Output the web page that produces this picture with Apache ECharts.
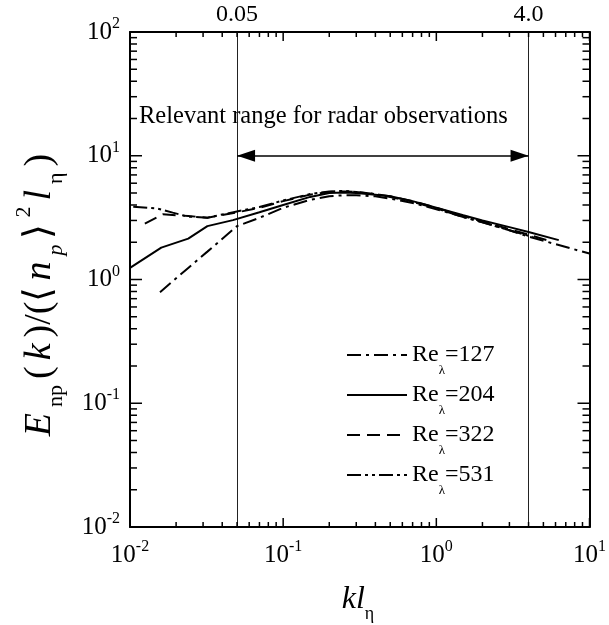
<!DOCTYPE html>
<html>
<head>
<meta charset="utf-8">
<script src="https://cdn.jsdelivr.net/npm/echarts@6/dist/echarts.min.js"></script>
<style>
html,body{margin:0;padding:0;background:#fff;}
#chart{width:609px;height:625px;}
</style>
</head>
<body>
<div id="chart"></div>
<script>
// ---- data ----
var seriesNames = ['127', '204', '322', '531'];

var k127 = [0.0157, 0.024, 0.032, 0.05, 0.07, 0.1, 0.15, 0.2, 0.25, 0.3, 0.4, 0.5, 0.7, 1.0, 1.5, 2.0, 3.0, 4.0, 6.0, 10];
var e127 = [0.79, 1.24, 1.68, 2.70, 3.15, 3.8, 4.4, 4.7, 4.8, 4.8, 4.7, 4.5, 4.15, 3.7, 3.2, 2.9, 2.5, 2.22, 1.93, 1.62];

var k204 = [0.01, 0.016, 0.024, 0.032, 0.047, 0.07, 0.1, 0.15, 0.2, 0.25, 0.3, 0.4, 0.5, 0.7, 1.0, 1.5, 2.0, 3.0, 4.0, 6.3];
var e204 = [1.24, 1.81, 2.14, 2.70, 3.02, 3.5, 4.0, 4.65, 5.0, 5.05, 5.0, 4.85, 4.7, 4.3, 3.8, 3.3, 3.0, 2.65, 2.42, 2.08];

var k322 = [0.0125, 0.0164, 0.024, 0.032, 0.049, 0.07, 0.1, 0.15, 0.2, 0.25, 0.3, 0.4, 0.5, 0.7, 1.0, 1.5, 2.0, 3.0, 4.0, 5.5];
var e322 = [2.83, 3.36, 3.26, 3.16, 3.47, 3.8, 4.3, 4.85, 5.1, 5.15, 5.1, 4.9, 4.7, 4.3, 3.8, 3.25, 2.95, 2.55, 2.3, 2.05];

var k531 = [0.0105, 0.015, 0.019, 0.024, 0.032, 0.049, 0.07, 0.1, 0.15, 0.2, 0.25, 0.3, 0.4, 0.5, 0.7, 1.0, 1.5, 2.0, 3.0, 4.3];
var e531 = [3.88, 3.75, 3.47, 3.22, 3.16, 3.53, 3.85, 4.35, 4.9, 5.15, 5.2, 5.1, 4.9, 4.65, 4.25, 3.75, 3.2, 2.9, 2.5, 2.2];

var rangeLines = [0.05, 4.0];
var rangeLabels = ['0.05', '4.0'];
var arrowLevel = 10;
var rangeText = 'Relevant range for radar observations';

var xMin = 0.01, xMax = 10, yMin = 0.01, yMax = 100;
var xTickExps = [-2, -1, 0, 1];
var yTickExps = [-2, -1, 0, 1, 2];
var xMajor = [0.01, 0.1, 1, 10];
var yMajor = [0.01, 0.1, 1, 10, 100];
var xMinor = [0.02,0.03,0.04,0.05,0.06,0.07,0.08,0.09,0.2,0.3,0.4,0.5,0.6,0.7,0.8,0.9,2,3,4,5,6,7,8,9];
var yMinor = [0.02,0.03,0.04,0.05,0.06,0.07,0.08,0.09,0.2,0.3,0.4,0.5,0.6,0.7,0.8,0.9,2,3,4,5,6,7,8,9,20,30,40,50,60,70,80,90];

// ---- styling ----
var FONT = '"Liberation Serif", "Times New Roman", serif';
var dashes = {
  '127': [14, 5, 3, 5],
  '204': 'solid',
  '322': [13, 7],
  '531': [14, 4, 3, 4, 3, 4]
};
var TICK = { xMajorLen: 9, xMinorLen: 5, yMajorLen: 12, yMinorLen: 7, width: 1.5, color: '#000' };

function pairs(ks, es) { return ks.map(function (k, i) { return [k, es[i]]; }); }
var dataMap = { '127': pairs(k127, e127), '204': pairs(k204, e204), '322': pairs(k322, e322), '531': pairs(k531, e531) };

function expLabel(exps) {
  return function (v) {
    var e = Math.round(Math.log10(v));
    if (exps.indexOf(e) < 0) return '';
    return '{b|10}{s|' + e + '}';
  };
}
var tickRich = {
  b: { fontFamily: FONT, fontSize: 25, color: '#000', lineHeight: 32 },
  s: { fontFamily: FONT, fontSize: 16, color: '#000', lineHeight: 14, verticalAlign: 'top' }
};

var axLine = { show: true, onZero: false, lineStyle: { color: '#000', width: 2 } };
function mainX(pos, showLabel) {
  return {
    type: 'log', logBase: 10, min: xMin, max: xMax, position: pos,
    axisLine: axLine,
    axisTick: { show: false },
    axisLabel: { show: showLabel, margin: 12, formatter: expLabel(xTickExps), rich: tickRich },
    splitLine: { show: false }
  };
}
function mainY(pos, showLabel) {
  return {
    type: 'log', logBase: 10, min: yMin, max: yMax, position: pos,
    axisLine: axLine,
    axisTick: { show: false },
    axisLabel: { show: showLabel, margin: 10, formatter: expLabel(yTickExps), rich: tickRich },
    splitLine: { show: false }
  };
}

var series = seriesNames.map(function (n) {
  return {
    name: n, type: 'line', data: dataMap[n], symbol: 'none', showSymbol: false,
    xAxisIndex: 0, yAxisIndex: 0, clip: true, z: 5,
    lineStyle: { color: '#000', width: 2, type: dashes[n] },
    itemStyle: { color: '#000' }
  };
});

// inward ticks on all four sides, placed through the axes' own scales
function tickLine(x1, y1, x2, y2) {
  return { type: 'line', shape: { x1: x1, y1: y1, x2: x2, y2: y2 }, style: { stroke: TICK.color, lineWidth: TICK.width } };
}
series.push({
  name: 'xticks', type: 'custom', xAxisIndex: 0, yAxisIndex: 0, clip: false, silent: true, z: 6,
  data: xMajor.concat(xMinor).map(function (v) { return [v, yMin]; }),
  renderItem: function (params, api) {
    var v = api.value(0);
    var len = xMajor.indexOf(v) >= 0 ? TICK.xMajorLen : TICK.xMinorLen;
    var pb = api.coord([v, yMin]);
    var pt = api.coord([v, yMax]);
    return { type: 'group', children: [
      tickLine(pb[0], pb[1], pb[0], pb[1] - len),
      tickLine(pt[0], pt[1], pt[0], pt[1] + len)
    ] };
  }
});
series.push({
  name: 'yticks', type: 'custom', xAxisIndex: 0, yAxisIndex: 0, clip: false, silent: true, z: 6,
  data: yMajor.concat(yMinor).map(function (v) { return [xMin, v]; }),
  renderItem: function (params, api) {
    var v = api.value(1);
    var len = yMajor.indexOf(v) >= 0 ? TICK.yMajorLen : TICK.yMinorLen;
    var pl = api.coord([xMin, v]);
    var pr = api.coord([xMax, v]);
    return { type: 'group', children: [
      tickLine(pl[0], pl[1], pl[0] + len, pl[1]),
      tickLine(pr[0], pr[1], pr[0] - len, pr[1])
    ] };
  }
});

series.push({
  name: 'range', type: 'line', data: [], xAxisIndex: 0, yAxisIndex: 0,
  markLine: {
    silent: true, animation: false,
    symbol: 'none',
    lineStyle: { color: '#222', width: 1, type: 'solid' },
    label: {
      show: true, position: 'end', distance: 5,
      fontFamily: FONT, fontSize: 24, color: '#000',
      formatter: function (p) { return rangeLabels[rangeLines.indexOf(p.value)] || p.value; }
    },
    data: rangeLines.map(function (v) { return { xAxis: v }; })
  }
});
series.push({
  name: 'arrow', type: 'line', data: [], xAxisIndex: 0, yAxisIndex: 0,
  markLine: {
    silent: true, animation: false,
    symbol: ['triangle', 'triangle'],
    symbolSize: [12, 18],
    symbolOffset: [[0, 9], [0, 9]],
    lineStyle: { color: '#000', width: 1.5, type: 'solid' },
    label: { show: false },
    data: [[{ coord: [rangeLines[0], arrowLevel] }, { coord: [rangeLines[1], arrowLevel] }]]
  }
});

var option = {
  animation: false,
  backgroundColor: '#fff',
  grid: { left: 130, right: 18, top: 32, bottom: 98, containLabel: false },
  xAxis: [mainX('bottom', true), mainX('top', false)],
  yAxis: [mainY('left', true), mainY('right', false)],
  legend: {
    data: seriesNames,
    orient: 'vertical',
    left: 346, top: 343,
    padding: 0,
    itemWidth: 60, itemHeight: 14, itemGap: 6,
    itemStyle: { opacity: 0 },
    formatter: function (n) { return '{r|Re}{s|\u03bb}{r|=' + n + '}'; },
    textStyle: {
      rich: {
        r: { fontFamily: FONT, fontSize: 24, color: '#000', lineHeight: 44 },
        s: { fontFamily: FONT, fontSize: 13, color: '#000', lineHeight: 20, verticalAlign: 'bottom' }
      }
    }
  },
  graphic: [
    {
      type: 'text', left: 139, top: 104, silent: true,
      style: { text: rangeText, font: '24.5px ' + FONT, fill: '#000' }
    },
    {
      type: 'text', x: 358, y: 600, silent: true,
      style: {
        text: '{i|kl}{s|\u03b7}', align: 'center', verticalAlign: 'middle',
        rich: {
          i: { fontFamily: FONT, fontStyle: 'italic', fontSize: 32, fill: '#000', lineHeight: 46 },
          s: { fontFamily: FONT, fontSize: 18, fill: '#000', lineHeight: 16, verticalAlign: 'bottom' }
        }
      }
    },
    {
      type: 'text', x: 40, y: 295, rotation: Math.PI / 2, silent: true,
      style: {
        text: '{i|E}{sb|np}{n|(}{i|k}{n|)/(\u27e8}{i|n}{sbi|p}{n|\u27e9}{sp|2}{i|l}{sb|\u03b7}{n|)}',
        align: 'center', verticalAlign: 'middle',
        rich: {
          i: { fontFamily: FONT, fontStyle: 'italic', fontSize: 38, fill: '#000', lineHeight: 54, padding: [0, 3] },
          n: { fontFamily: FONT, fontSize: 38, fill: '#000', lineHeight: 54, padding: [0, 3] },
          sb: { fontFamily: FONT, fontSize: 22, fill: '#000', lineHeight: 20, verticalAlign: 'bottom', padding: [0, 3] },
          sbi: { fontFamily: FONT, fontStyle: 'italic', fontSize: 22, fill: '#000', lineHeight: 20, verticalAlign: 'bottom', padding: [0, 3] },
          sp: { fontFamily: FONT, fontSize: 22, fill: '#000', lineHeight: 20, verticalAlign: 'top', padding: [0, 3] }
        }
      }
    }
  ],
  series: series
};

var chart = echarts.init(document.getElementById('chart'), null, { renderer: 'canvas' });
chart.setOption(option);
</script>
</body>
</html>
